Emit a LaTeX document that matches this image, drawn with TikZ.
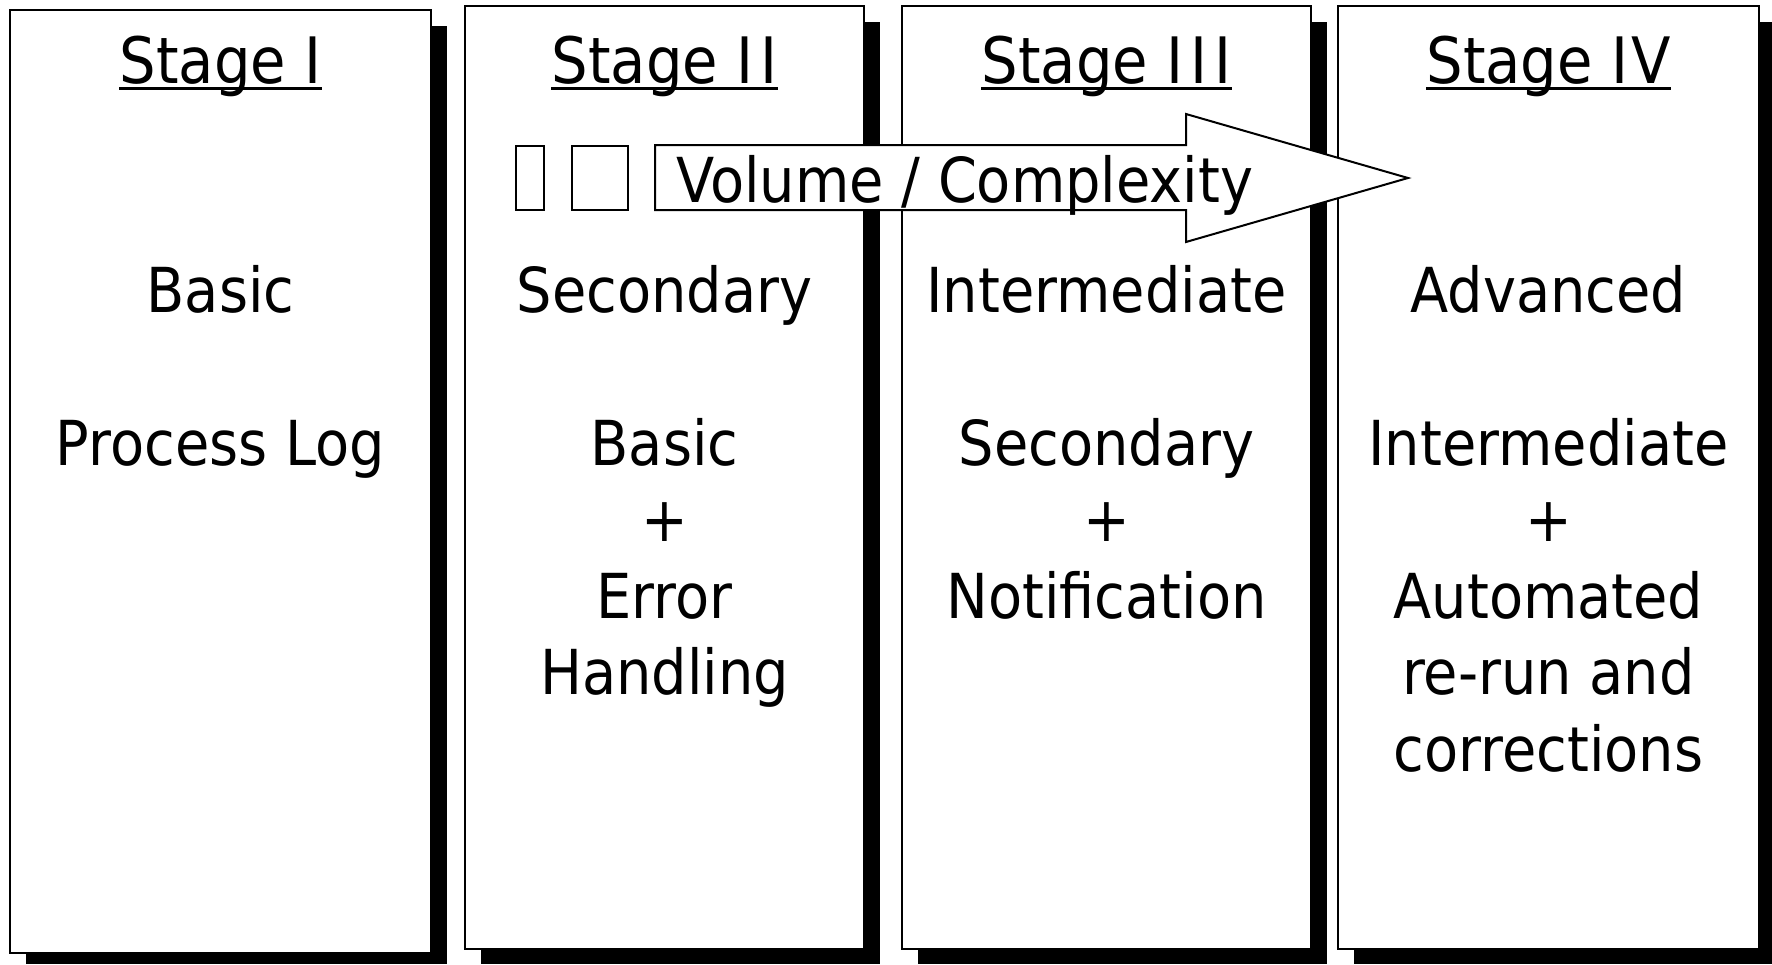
\documentclass[tikz,border=0pt]{standalone}
\usepackage{fontspec}
\setmainfont[FakeStretch=0.9]{DejaVu Sans}
\begin{document}
\begin{tikzpicture}[x=1pt,y=-1pt,
  shadowbox/.style={fill=black,draw=none},
  stagebox/.style={draw=black,fill=white,line width=2pt},
  txt/.style={font=\fontsize{62}{76}\selectfont,inner sep=0pt,anchor=base},
  ttl/.style={font=\fontsize{64}{76}\selectfont,inner sep=0pt,anchor=base},
  uline/.style={line width=3pt},
  tofu/.style={draw=black,fill=white,line width=2pt},
  bigarrow/.style={draw=black,fill=white,line width=2pt,line join=miter}]
\useasboundingbox (0,0) rectangle (1772,964);
% shadows
\fill[shadowbox] (26,26) rectangle (447,964);
\fill[shadowbox] (481,22) rectangle (880,964);
\fill[shadowbox] (918,22) rectangle (1327,964);
\fill[shadowbox] (1354,22) rectangle (1772,964);
% boxes
\draw[stagebox] (10,10) rectangle (431,953);
\draw[stagebox] (465,6) rectangle (864,949);
\draw[stagebox] (902,6) rectangle (1311,949);
\draw[stagebox] (1338,6) rectangle (1759,949);
% titles
\node[ttl] (t1) at (220.5,83) {Stage I};
\node[ttl] (t2) at (664.5,83) {Stage I\kern7pt I};
\node[ttl] (t3) at (1106.5,83) {Stage I\kern7pt I\kern7pt I};
\node[ttl] (t4) at (1548.5,83) {Stage I\kern3pt V};
\foreach \t in {t1,t2,t3,t4}
  \draw[uline] ([yshift=-5pt]\t.base west) -- ([yshift=-5pt]\t.base east);
% stage I
\node[txt] (a1) at (220.5,312) {Basic};
\node[txt] (a2) at (220.5,465) {Process Log};
% stage II
\node[txt] (b1) at (664.5,312) {Secondary};
\node[txt] (b2) at (664.5,465) {Basic};
\node[txt] (b3) at (664.5,541.5) {+};
\node[txt] (b4) at (664.5,618) {Error};
\node[txt] (b5) at (664.5,694.5) {Handling};
% stage III
\node[txt] (c1) at (1106.5,312) {Intermediate};
\node[txt] (c2) at (1106.5,465) {Secondary};
\node[txt] (c3) at (1106.5,541.5) {+};
\node[txt] (c4) at (1106.5,618) {Notification};
% stage IV
\node[txt] (d1) at (1548.5,312) {Advanced};
\node[txt] (d2) at (1548.5,465) {Intermediate};
\node[txt] (d3) at (1548.5,541.5) {+};
\node[txt] (d4) at (1548.5,618) {Automated};
\node[txt] (d5) at (1548.5,694.5) {re-run and};
\node[txt] (d6) at (1548.5,771) {corrections};
% small boxes
\draw[tofu] (516,146) rectangle (544,210);
\draw[tofu] (572,146) rectangle (628,210);
% arrow
\draw[bigarrow] (655,145) -- (1186,145) -- (1186,114) -- (1408,178) -- (1186,242) -- (1186,210) -- (655,210) -- cycle;
\node[txt,anchor=base west] (vc) at (676,202) {Volume / Complexity};
\end{tikzpicture}
\end{document}
